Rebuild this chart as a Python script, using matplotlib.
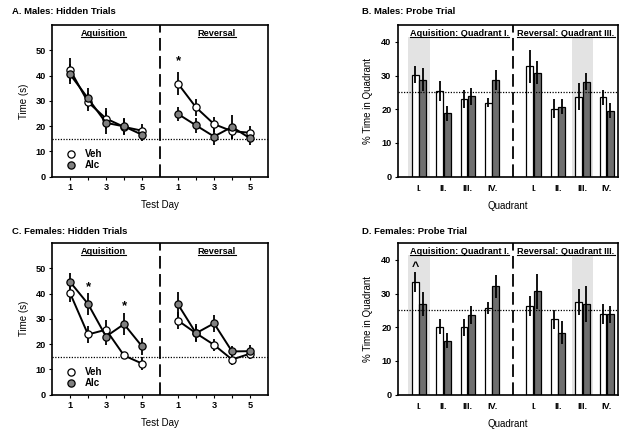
import numpy as np
import matplotlib
matplotlib.use("Agg")
import matplotlib.pyplot as plt
from matplotlib.lines import Line2D

plt.rcParams['font.family'] = ['Liberation Sans', 'DejaVu Sans']
plt.rcParams['font.weight'] = 'bold'

# hidden trials (time in s), days 1-5
days = [1, 2, 3, 4, 5]
day_labels = ['1', '', '3', '', '5']

males_acq_veh = [42.3, 29.5, 23.0, 19.7, 18.2]
males_acq_veh_err = [4.5, 3.5, 4.0, 3.0, 2.5]
males_acq_alc = [40.5, 31.0, 21.3, 19.9, 16.6]
males_acq_alc_err = [4.0, 4.0, 4.5, 3.5, 2.5]
males_rev_veh = [36.8, 27.4, 20.8, 18.0, 17.4]
males_rev_veh_err = [4.5, 3.3, 3.0, 3.0, 2.5]
males_rev_alc = [24.8, 20.3, 15.9, 19.7, 15.2]
males_rev_alc_err = [2.7, 3.0, 3.5, 4.8, 2.7]

females_acq_veh = [40.2, 23.8, 25.7, 15.5, 12.3]
females_acq_veh_err = [3.5, 3.5, 4.0, 1.5, 2.5]
females_acq_alc = [44.6, 35.9, 23.0, 27.9, 19.1]
females_acq_alc_err = [3.5, 4.5, 3.5, 4.5, 3.5]
females_rev_veh = [29.3, 24.3, 19.7, 13.9, 16.2]
females_rev_veh_err = [3.5, 3.0, 2.5, 2.0, 2.0]
females_rev_alc = [35.7, 24.3, 28.2, 17.1, 17.2]
females_rev_alc_err = [4.8, 3.5, 3.5, 2.0, 2.5]

# probe trials (% time in quadrant), acquisition I-IV then reversal I-IV
quadrants = ['I.', 'II.', 'III.', 'IV.', 'I.', 'II.', 'III.', 'IV.']

males_probe_veh = [30.3, 25.4, 23.0, 22.0, 32.7, 20.1, 23.7, 23.5]
males_probe_veh_err = [2.5, 3.0, 2.7, 1.4, 4.8, 2.8, 4.0, 2.2]
males_probe_alc = [28.8, 18.8, 23.8, 28.6, 30.9, 20.8, 28.2, 19.6]
males_probe_alc_err = [3.3, 2.2, 2.6, 3.0, 3.5, 2.1, 2.6, 2.3]

females_probe_veh = [33.5, 20.1, 20.0, 25.8, 26.4, 22.3, 27.4, 24.0]
females_probe_veh_err = [3.0, 2.2, 2.5, 1.8, 3.0, 2.8, 3.9, 3.0]
females_probe_alc = [26.8, 16.0, 23.7, 32.1, 30.6, 18.4, 26.9, 23.9]
females_probe_alc_err = [3.6, 2.3, 2.7, 3.4, 5.2, 3.4, 5.3, 2.5]

GREY_MK = '#808080'
GREY_BAR = '#6e6e6e'
SHADE = '#e3e3e3'
TICK_FS = 6.6
LABEL_FS = 7.0
HEAD_FS = 6.6
TITLE_FS = 6.8

fig = plt.figure(figsize=(6.29, 4.36), dpi=100)

underlined = []


def style_axes(ax):
    for s in ax.spines.values():
        s.set_linewidth(1.2)
    ax.tick_params(labelsize=TICK_FS, length=2.5, width=0.8, pad=2)


def hidden_panel(rect, title, title_dy, acq_veh, acq_veh_e, acq_alc, acq_alc_e,
                 rev_veh, rev_veh_e, rev_alc, rev_alc_e, stars):
    ax = fig.add_axes(rect)
    x_acq = np.array(days)
    x_rev = np.array(days) + 6
    kw = dict(lw=1.4, ms=5.2, mec='black', mew=0.9, elinewidth=1.3,
              capsize=0, ecolor='black', color='black')
    ax.errorbar(x_acq, acq_veh, yerr=acq_veh_e, fmt='o-', mfc='white', **kw)
    ax.errorbar(x_rev, rev_veh, yerr=rev_veh_e, fmt='o-', mfc='white', **kw)
    ax.errorbar(x_acq, acq_alc, yerr=acq_alc_e, fmt='o-', mfc=GREY_MK, **kw)
    ax.errorbar(x_rev, rev_alc, yerr=rev_alc_e, fmt='o-', mfc=GREY_MK, **kw)
    ax.axhline(15, color='black', ls=(0, (1, 1.2)), lw=0.9)
    ax.axvline(6, color='black', ls=(0, (7, 3)), lw=1.3)
    ax.set_xlim(0, 12)
    ax.set_ylim(0, 60)
    ax.set_yticks([0, 10, 20, 30, 40, 50])
    ax.set_xticks(list(x_acq) + list(x_rev))
    ax.set_xticklabels(day_labels + day_labels)
    ax.set_ylabel('Time (s)', fontsize=LABEL_FS, labelpad=5)
    ax.set_xlabel('Test Day', fontsize=LABEL_FS, labelpad=6)
    for xs, ys in stars:
        ax.text(xs, ys, '*', ha='center', va='center', fontsize=9.5)
    t1 = ax.text(2.85, 0.945, 'Aquisition', transform=ax.get_xaxis_transform(),
                 ha='center', va='center', fontsize=HEAD_FS)
    t2 = ax.text(9.15, 0.945, 'Reversal', transform=ax.get_xaxis_transform(),
                 ha='center', va='center', fontsize=HEAD_FS)
    underlined.extend([t1, t2])
    h1 = Line2D([], [], marker='o', ls='none', mfc='white', mec='black', mew=0.9, ms=5.2)
    h2 = Line2D([], [], marker='o', ls='none', mfc=GREY_MK, mec='black', mew=0.9, ms=5.2)
    ax.legend([h1, h2], ['Veh', 'Alc'], loc='lower left', bbox_to_anchor=(0.025, -0.01),
              frameon=False, fontsize=7.0, handletextpad=0.8,
              labelspacing=0.15, handlelength=1.2, borderpad=0.3)
    style_axes(ax)
    fig.text(rect[0] - 0.063, rect[1] + rect[3] + title_dy, title, fontsize=TITLE_FS,
             ha='left', va='center')
    return ax


def probe_panel(rect, title, title_dy, veh, veh_e, alc, alc_e, marks):
    ax = fig.add_axes(rect)
    pos = np.array([1, 2, 3, 4, 5.7, 6.7, 7.7, 8.7])
    w = 0.28
    ax.axvspan(1 - 0.45, 1 + 0.45, ymax=41.3 / 45, color=SHADE, lw=0, zorder=0)
    ax.axvspan(7.7 - 0.43, 7.7 + 0.43, ymax=41.3 / 45, color=SHADE, lw=0, zorder=0)
    ax.bar(pos - 0.155, veh, w, color='white', edgecolor='black', lw=0.9, zorder=2)
    ax.bar(pos + 0.155, alc, w, color=GREY_BAR, edgecolor='black', lw=0.9, zorder=2)
    ax.errorbar(pos - 0.155, veh, yerr=veh_e, fmt='none', ecolor='black',
                elinewidth=1.3, capsize=0, zorder=3)
    ax.errorbar(pos + 0.155, alc, yerr=alc_e, fmt='none', ecolor='black',
                elinewidth=1.3, capsize=0, zorder=3)
    ax.axhline(25, color='black', ls=(0, (1, 1.2)), lw=0.9, zorder=4)
    ax.axvline(4.85, color='black', ls=(0, (7, 3)), lw=1.3, zorder=4)
    ax.set_xlim(0.13, 9.15)
    ax.set_ylim(0, 45)
    ax.set_yticks([0, 10, 20, 30, 40])
    ax.set_xticks(pos)
    ax.set_xticklabels(quadrants)
    ax.set_ylabel('% Time in Quadrant', fontsize=LABEL_FS, labelpad=6)
    ax.set_xlabel('Quadrant', fontsize=LABEL_FS, labelpad=6)
    for xs, ys, s in marks:
        ax.text(xs, ys, s, ha='center', va='center', fontsize=9)
    t1 = ax.text(0.28, 0.945, 'Aquisition: Quadrant I.', transform=ax.transAxes,
                 ha='center', va='center', fontsize=HEAD_FS)
    t2 = ax.text(0.765, 0.945, 'Reversal: Quadrant III.', transform=ax.transAxes,
                 ha='center', va='center', fontsize=HEAD_FS)
    underlined.extend([t1, t2])
    style_axes(ax)
    ax.tick_params(axis='x', length=0, pad=5)
    fig.text(rect[0] - 0.057, rect[1] + rect[3] + title_dy, title, fontsize=TITLE_FS,
             ha='left', va='center')
    return ax


left_a, width_a = 0.0827, 0.3434
left_b, width_b = 0.6323, 0.3497
top_h = 0.348

hidden_panel([left_a, 0.5947, width_a, top_h], 'A. Males: Hidden Trials', 0.030,
             males_acq_veh, males_acq_veh_err, males_acq_alc, males_acq_alc_err,
             males_rev_veh, males_rev_veh_err, males_rev_alc, males_rev_alc_err,
             stars=[(7, 45.6)])
probe_panel([left_b, 0.5947, width_b, top_h], 'B. Males: Probe Trial', 0.030,
            males_probe_veh, males_probe_veh_err, males_probe_alc, males_probe_alc_err,
            marks=[])
hidden_panel([left_a, 0.0948, width_a, top_h], 'C. Females: Hidden Trials', 0.026,
             females_acq_veh, females_acq_veh_err, females_acq_alc, females_acq_alc_err,
             females_rev_veh, females_rev_veh_err, females_rev_alc, females_rev_alc_err,
             stars=[(2, 42.7), (4, 35.0)])
probe_panel([left_b, 0.0948, width_b, top_h], 'D. Females: Probe Trial', 0.026,
            females_probe_veh, females_probe_veh_err, females_probe_alc, females_probe_alc_err,
            marks=[(0.845, 38.0, '^')])

# underline the section headings
fig.canvas.draw()
renderer = fig.canvas.get_renderer()
inv = fig.transFigure.inverted()
for t in underlined:
    bb = t.get_window_extent(renderer)
    (x0, y0), (x1, y1) = inv.transform([(bb.x0, bb.y0 + 0.5), (bb.x1, bb.y0 + 0.5)])
    fig.add_artist(Line2D([x0, x1], [y0, y1], transform=fig.transFigure,
                          color='black', lw=0.8))

fig.savefig('out.png', dpi=100)
